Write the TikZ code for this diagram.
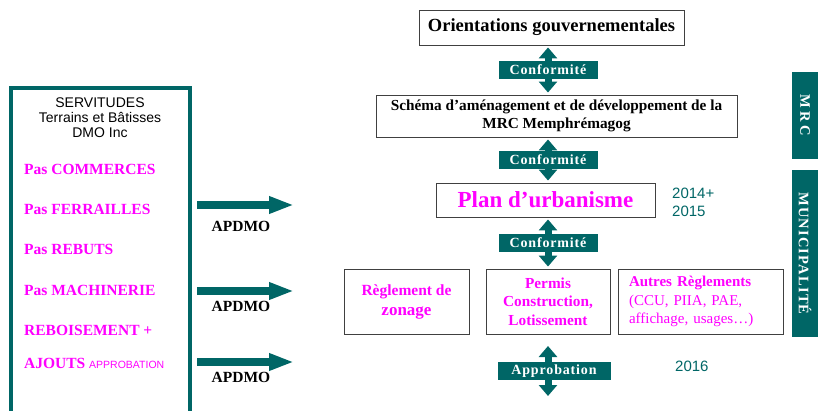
\documentclass[tikz,border=0pt]{standalone}
\usepackage{fontspec}
\setmainfont{Liberation Serif}
\setsansfont{Liberation Sans}
\newfontfamily\espace[LetterSpace=6]{Liberation Serif}
\usetikzlibrary{arrows.meta,positioning}
\definecolor{sarcelle}{RGB}{0,102,102}
\definecolor{rose}{RGB}{255,0,255}
\tikzset{
  boite/.style={draw=black!75, line width=0.9pt, inner sep=0pt, align=center},
  etiq/.style={fill=sarcelle, text=white, inner sep=0pt, minimum height=18pt, font=\espace\bfseries\fontsize{14}{16}\selectfont},
  conf/.style={sarcelle, line width=7pt, shorten <=2pt, shorten >=2pt, {Triangle[width=18pt,length=11pt]}-{Triangle[width=18pt,length=11pt]}},
  bloc/.style={sarcelle, line width=8pt, -{Triangle[width=16pt,length=25pt]}},
  bande/.style={fill=sarcelle, text=white, rotate=-90, minimum height=26pt, inner sep=0pt, font=\espace\bfseries\fontsize{14.5}{16}\selectfont},
  item/.style={anchor=base west, text=rose, font=\bfseries\fontsize{15.5}{17}\selectfont, inner sep=0pt},
  apdmo/.style={anchor=base, font=\bfseries\fontsize{15.5}{17}\selectfont, inner sep=0pt},
  annee/.style={text=sarcelle, font=\sffamily\fontsize{15}{18}\selectfont, align=left, anchor=west, inner sep=0pt}
}
\begin{document}
\begin{tikzpicture}[x=1pt,y=-1pt]
\useasboundingbox (0,0) rectangle (818,411);

\node[draw=sarcelle, line width=4.5pt, minimum width=179pt, minimum height=326pt, inner sep=0pt] (serv) at (100.5,251) {};
\node[font=\sffamily\fontsize{14}{15}\selectfont, align=center, anchor=north, inner sep=0pt] (titre) at (100,98) {SERVITUDES\\Terrains et Bâtisses\\DMO Inc};
\node[item] (commerces) at (24,175) {Pas COMMERCES};
\node[item] (ferrailles) at (24,215) {Pas FERRAILLES};
\node[item] (rebuts) at (24,255) {Pas REBUTS};
\node[item] (machinerie) at (24,295) {Pas MACHINERIE};
\node[item] (reboisement) at (24,335) {REBOISEMENT +};
\node[item] (ajouts) at (24,368) {AJOUTS {\sffamily\mdseries\fontsize{10.5}{12}\selectfont APPROBATION}};

\coordinate (d1) at (197,205);
\coordinate (f1) at (294,205);
\coordinate (d2) at (197,291);
\coordinate (f2) at (294,291);
\coordinate (d3) at (197,362);
\coordinate (f3) at (294,362);
\draw[bloc] (d1) -- (f1);
\draw[bloc] (d2) -- (f2);
\draw[bloc] (d3) -- (f3);
\node[apdmo] (apdmo1) at (241,232) {APDMO};
\node[apdmo] (apdmo2) at (241,311) {APDMO};
\node[apdmo] (apdmo3) at (241,382) {APDMO};

\coordinate (axe) at (548,0);
\node[boite, minimum width=265pt, minimum height=35pt, font=\bfseries\fontsize{18.5}{20}\selectfont] (orient) at (551.5,27.5) {Orientations gouvernementales};
\node[boite, minimum width=361pt, minimum height=42pt, font=\bfseries\fontsize{15.3}{18.5}\selectfont] (schema) at (556.5,116) {Schéma d’aménagement et de développement de la\\MRC Memphrémagog};
\node[boite, minimum width=219pt, minimum height=34pt, text=rose, font=\bfseries\fontsize{23}{26}\selectfont] (plan) at (545.5,200) {Plan d’urbanisme};
\node[boite, minimum width=125pt, minimum height=65pt, text=rose, font=\bfseries\fontsize{15.5}{20}\selectfont] (zonage) at (406.5,301.5) {Règlement de\\{\fontsize{17}{20}\selectfont zonage}};
\node[boite, minimum width=124pt, minimum height=65pt, text=rose, font=\bfseries\fontsize{15.3}{18.5}\selectfont] (permis) at (548,301.5) {Permis\\Construction,\\Lotissement};
\node[boite, minimum height=65pt, text width=143pt, inner xsep=11pt, align=left, text=rose, font=\fontsize{15}{18.5}\selectfont] (autres) at (700.5,301.5) {\textbf{Autres Règlements}\\(CCU, PIIA, PAE,\\affichage, usages…)};

\draw[conf] (orient.south -| axe) -- (schema.north -| axe) node[etiq, midway, minimum width=99pt] (conf1) {Conformité};
\draw[conf] (schema.south -| axe) -- (plan.north -| axe) node[etiq, midway, minimum width=99pt] (conf2) {Conformité};
\draw[conf] (plan.south -| axe) -- (permis.north -| axe) node[etiq, midway, minimum width=99pt] (conf3) {Conformité};
\coordinate (a1) at (548,346);
\coordinate (a2) at (548,396);
\draw[conf, shorten <=0pt, shorten >=0pt] (a1) -- (a2) node[etiq, midway, xshift=6pt, minimum width=113pt] (appro) {Approbation};

\node[annee] (an1) at (672,202) {2014+\\2015};
\node[annee] (an2) at (675,366) {2016};

\node[bande, minimum width=87pt] (mrc) at (805,115.5) {\addfontfeature{LetterSpace=22}MRC};
\node[bande, minimum width=167pt] (muni) at (805,253.5) {\addfontfeature{LetterSpace=8}MUNICIPALITÉ};
\end{tikzpicture}
\end{document}
